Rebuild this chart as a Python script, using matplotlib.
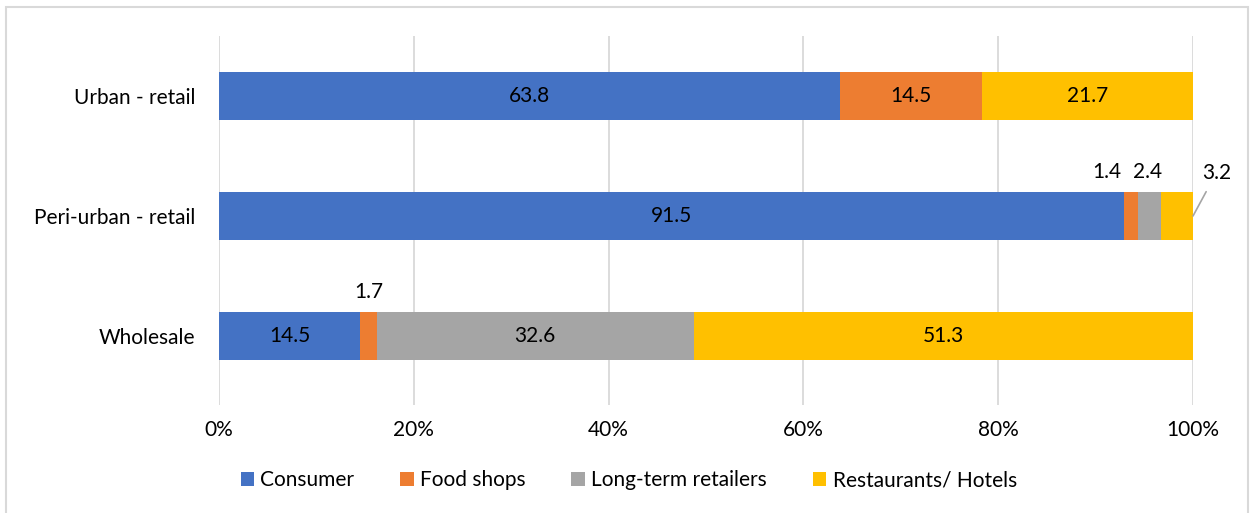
import matplotlib.pyplot as plt
import numpy as np
from matplotlib.patches import Rectangle

plt.rcParams["font.family"] = ["Lato", "DejaVu Sans"]

categories = ["Wholesale", "Peri-urban - retail", "Urban - retail"]
series = ["Consumer", "Food shops", "Long-term retailers", "Restaurants/ Hotels"]
consumer = [14.5, 91.5, 63.8]
food_shops = [1.7, 1.4, 14.5]
long_term = [32.6, 2.4, 0.0]
restaurants = [51.3, 3.2, 21.7]
colors = ["#4472C4", "#ED7D31", "#A5A5A5", "#FFC000"]

values = np.array([consumer, food_shops, long_term, restaurants])
shares = values / values.sum(axis=0) * 100  # 100% stacked

fig = plt.figure(figsize=(12.5, 5.13), dpi=100)
ax = fig.add_axes([219 / 1250, 1 - 405 / 513, (1193 - 219) / 1250, (405 - 36) / 513])

y = np.arange(len(categories))
left = np.zeros(len(categories))
for i, name in enumerate(series):
    ax.barh(y, shares[i], left=left, height=0.4, color=colors[i], label=name, zorder=3)
    left += shares[i]

# labels inside wide segments, above the narrow ones
fs = 15
for i in range(len(series)):
    for j in range(len(categories)):
        v = values[i, j]
        if v == 0:
            continue
        start = shares[:i, j].sum()
        mid = start + shares[i, j] / 2
        if shares[i, j] > 5:
            ax.text(mid, y[j], f"{v:.1f}", ha="center", va="center", fontsize=fs, zorder=4)
        elif i == 3 and j == 1:
            ax.annotate(f"{v:.1f}", xy=(100, y[j]), xytext=(102.4, y[j] + 0.36),
                        ha="center", va="center", fontsize=fs,
                        arrowprops=dict(arrowstyle="-", color="#A5A5A5", lw=1.2,
                                        shrinkA=5, shrinkB=0))
        else:
            dx = {(1, 1): -2.5, (2, 1): -0.2}.get((i, j), 0.0)
            ax.text(mid + dx, y[j] + 0.37, f"{v:.1f}", ha="center", va="center", fontsize=fs)

ax.set_xlim(0, 100)
ax.set_ylim(-0.575, 2.5)
ax.set_yticks(y)
ax.set_yticklabels(categories, fontsize=fs)
ax.set_xticks(np.arange(0, 101, 20))
ax.set_xticklabels([f"{t}%" for t in range(0, 101, 20)], fontsize=fs)
ax.tick_params(axis="y", length=0, pad=17)
ax.tick_params(axis="x", length=0, pad=11)
ax.grid(axis="x", color="#D9D9D9", lw=1.3, zorder=0)
for s in ax.spines.values():
    s.set_visible(False)

fig.legend(loc="center", bbox_to_anchor=(0.503, 0.064), ncol=4, frameon=False,
           fontsize=fs, handlelength=0.65, handleheight=0.65, handletextpad=0.3,
           columnspacing=2.2)

fig.patches.append(Rectangle((6 / 1250, -0.1), (1248 - 6) / 1250, 1.1 - 7 / 513,
                             transform=fig.transFigure, fill=False,
                             edgecolor="#D9D9D9", lw=1.5))

fig.savefig("out.png", dpi=100)
